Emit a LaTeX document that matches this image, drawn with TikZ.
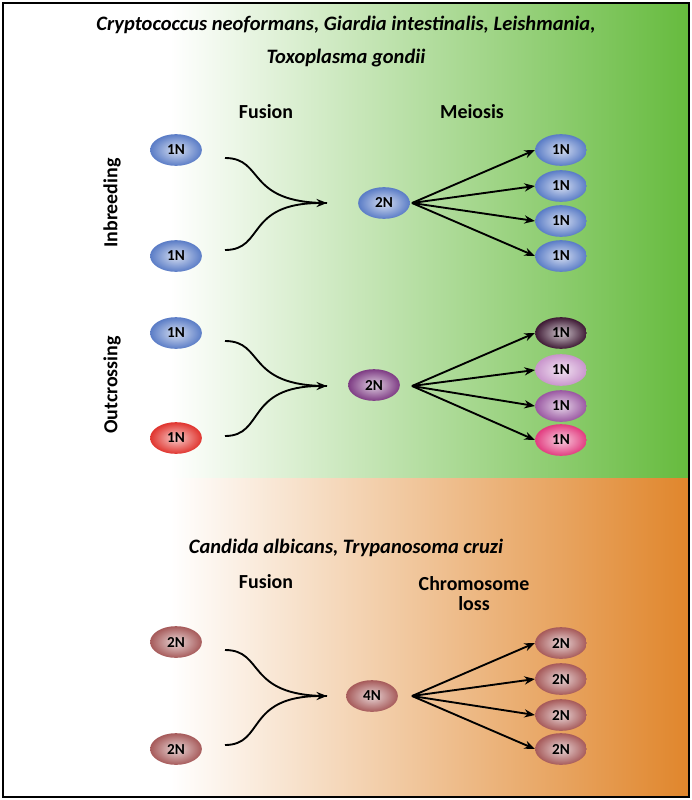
\documentclass[tikz,border=0pt]{standalone}
\usepackage{fontspec}
\setmainfont{Carlito}
\usetikzlibrary{shapes.geometric,arrows.meta}
\definecolor{cblue}{HTML}{5A7CC6}
\definecolor{cred}{HTML}{E0342E}
\definecolor{cpurple}{HTML}{7E3C84}
\definecolor{cdark}{HTML}{3E1A34}
\definecolor{clight}{HTML}{C995CC}
\definecolor{cmid}{HTML}{9A58A2}
\definecolor{cpink}{HTML}{E23C80}
\definecolor{cbrown}{HTML}{A65A5A}
\definecolor{cgreen}{HTML}{66BB3E}
\definecolor{corange}{HTML}{E0862C}
\tikzset{
  cell/.style={ellipse,minimum width=1.55cm,minimum height=0.95cm,inner sep=0pt,
    shading=radial,inner color=white!75!#1,outer color=#1,font=\bfseries\fontsize{13}{15}\selectfont},
  lbl/.style={font=\bfseries\fontsize{17}{20}\selectfont,align=center},
  ttl/.style={font=\bfseries\itshape\fontsize{17.5}{20}\selectfont},
  arr/.style={-{Stealth[length=9pt,width=7pt]},line width=1.6pt},
  cur/.style={line width=1.6pt},
}
\begin{document}
\begin{tikzpicture}[x=0.03cm,y=-0.03cm]
\useasboundingbox (0,0) rectangle (692,800);
% backgrounds
\fill[white] (4,4) rectangle (688,796);
\shade[left color=white,right color=cgreen] (170,4) rectangle (688,478);
\shade[left color=white,right color=corange] (170,478) rectangle (688,796);
\draw[line width=2pt] (3,3) rectangle (689,797);
% titles
\node[ttl] (t1) at (346,25) {Cryptococcus neoformans, Giardia intestinalis, Leishmania,};
\node[ttl] (t2) at (346,58) {Toxoplasma gondii};
\node[ttl] (t3) at (346,548) {Candida albicans, Trypanosoma cruzi};
\node[lbl] (f1) at (266,112) {Fusion};
\node[lbl] (m1) at (472,112) {Meiosis};
\node[lbl] (f2) at (266,582) {Fusion};
\node[lbl] (m2) at (474,594) {Chromosome\\[-3pt]loss};
\node[lbl,rotate=90] (ib) at (112,203) {Inbreeding};
\node[lbl,rotate=90] (oc) at (112,385) {Outcrossing};
% inbreeding
\node[cell=cblue] (a1) at (176,150) {1N};
\node[cell=cblue] (a2) at (176,256) {1N};
\node[cell=cblue] (a0) at (384,203) {2N};
\foreach \i/\y in {1/150,2/186,3/221,4/256}
  \node[cell=cblue] (ar\i) at (561,\y) {1N};
% outcrossing
\node[cell=cblue] (b1) at (176,333) {1N};
\node[cell=cred] (b2) at (176,438) {1N};
\node[cell=cpurple] (b0) at (374,385) {2N};
\node[cell=cdark] (br1) at (561,333) {1N};
\node[cell=clight] (br2) at (561,370) {1N};
\node[cell=cmid] (br3) at (561,406) {1N};
\node[cell=cpink] (br4) at (561,440) {1N};
% fusion of diploids
\node[cell=cbrown] (c1) at (176,642) {2N};
\node[cell=cbrown] (c2) at (176,749) {2N};
\node[cell=cbrown] (c0) at (372,696) {4N};
\foreach \i/\y in {1/643,2/679,3/715,4/749}
  \node[cell=cbrown] (cr\i) at (561,\y) {2N};
% connectors
\foreach \p/\top/\bot/\mid in {a/158/250/203,b/341/436/386,c/650/745/696}{
  \coordinate (\p s1) at (225,\top);
  \coordinate (\p s2) at (225,\bot);
  \coordinate (\p e) at (327,\mid);
  \coordinate (\p f) at (412,\mid);
  \draw[cur] (\p s1) .. controls (265,\top) and (245,\mid) .. (\p e);
  \draw[arr] (\p s2) .. controls (265,\bot) and (245,\mid) .. (\p e);
}
\foreach \i in {1,...,4}{
  \draw[arr] (af) -- (ar\i.west);
  \draw[arr] (bf) -- (br\i.west);
  \draw[arr] (cf) -- (cr\i.west);
}
\end{tikzpicture}
\end{document}
